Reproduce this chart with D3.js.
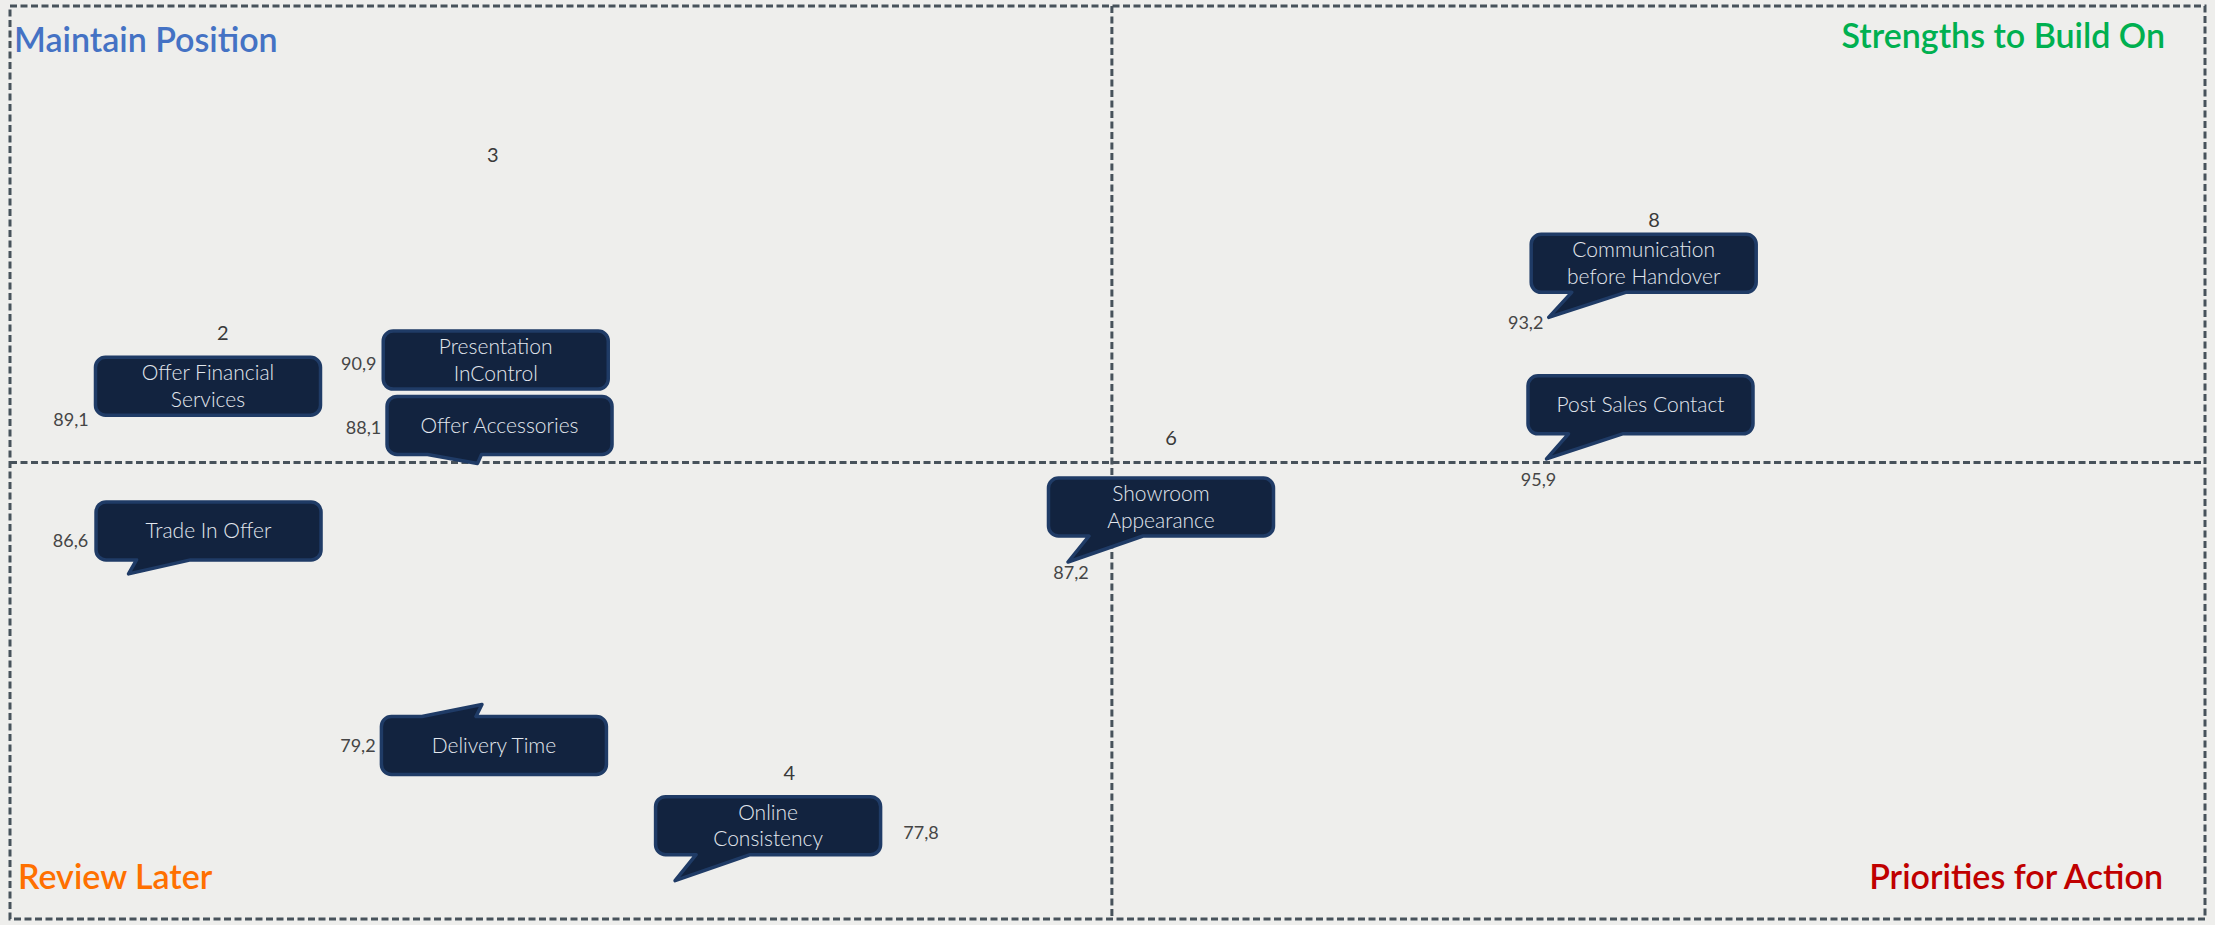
<!DOCTYPE html>
<html>
<head>
<meta charset="utf-8">
<script src="https://cdn.jsdelivr.net/npm/d3@7"></script>
<style>
  body { margin: 0; background: #eeeeec; }
  svg { display: block; }
</style>
</head>
<body>
<div id="the_chart"></div>
<script>
// callout items (point = where the callout points to)
var itemLines = [
    ["Offer Financial", "Services"],
    ["Presentation", "InControl"],
    ["Offer Accessories"],
    ["Trade In Offer"],
    ["Delivery Time"],
    ["Online", "Consistency"],
    ["Showroom", "Appearance"],
    ["Communication", "before Handover"],
    ["Post Sales Contact"]
];
var xVals  = [4.1, 17.3, 21.3, 5.4, 21.5, 30.3, 48.2, 70.1, 70.0];
var yVals  = [55.5, 59.9, 49.9, 37.8, 23.5, 4.2, 39.1, 65.9, 50.4];
var scores = ["89,1", "90,9", "88,1", "86,6", "79,2", "77,8", "87,2", "93,2", "95,9"];

// small count labels
var countLabels = ["2", "3", "8", "6", "4"];
var countX = [9.7, 22.0, 74.9, 52.9, 35.5];
var countY = [64.2, 83.7, 76.6, 52.7, 16.0];

// quadrant split
var xMid = 50.2, yMid = 50;

var quadrants = ["Maintain Position", "Strengths to Build On", "Review Later", "Priorities for Action"];
var quadColors = ["#4472c4", "#00b050", "#ff7000", "#c00000"];

// manual label placement (offsets in px from the point), like dragged excel labels
var boxOffset = [[108, -26], [106, -12], [22, -38], [80, -43], [12, 41], [93, -55], [93, -55], [95, -54], [94, -54]];
var scoreOffset = [[-29, 7], [-31, -8], [-114, -36], [-58, -33], [-124, 41], [246, -48], [3, 11], [-23, 5], [-8, 21]];

var w = 2215;
var h = 925;
var padL = 10, padR = 2205, padT = 6, padB = 919;
var boxW = 225, boxH = 58, rad = 10;

var svg = d3.select("#the_chart")
    .append("svg")
    .attr("width", w)
    .attr("height", h);

var xscale = d3.scaleLinear().domain([0, 100]).range([padL, padR]);
var yscale = d3.scaleLinear().domain([0, 100]).range([padB, padT]);

var dash = { stroke: "#47525b", width: 3, dasharray: "7,3.5" };

// frame
svg.append("rect")
    .attr("x", padL).attr("y", padT)
    .attr("width", padR - padL).attr("height", padB - padT)
    .attr("fill", "#eeeeec")
    .attr("stroke", dash.stroke)
    .attr("stroke-width", dash.width)
    .attr("stroke-dasharray", dash.dasharray);

// quadrant lines
svg.append("line")
    .attr("x1", xscale(xMid)).attr("x2", xscale(xMid))
    .attr("y1", padT).attr("y2", padB)
    .attr("stroke", dash.stroke).attr("stroke-width", dash.width)
    .attr("stroke-dasharray", dash.dasharray);
svg.append("line")
    .attr("x1", padL).attr("x2", padR)
    .attr("y1", yscale(yMid)).attr("y2", yscale(yMid))
    .attr("stroke", dash.stroke).attr("stroke-width", dash.width)
    .attr("stroke-dasharray", dash.dasharray);

// quadrant titles
var titlePos = [
    { x: 14, y: 52, anchor: "start" },
    { x: 2165, y: 48, anchor: "end" },
    { x: 18, y: 889, anchor: "start" },
    { x: 2163, y: 889, anchor: "end" }
];
svg.selectAll(".qtitle")
    .data(quadrants)
    .enter().append("text")
    .attr("class", "qtitle")
    .attr("x", function(d, i) { return titlePos[i].x; })
    .attr("y", function(d, i) { return titlePos[i].y; })
    .attr("text-anchor", function(d, i) { return titlePos[i].anchor; })
    .attr("fill", function(d, i) { return quadColors[i]; })
    .style("font-family", "Lato, 'Open Sans', sans-serif")
    .style("font-weight", 600)
    .style("font-size", "34px")
    .text(function(d) { return d; });

// callout shape: box at (0,0), tip at (tx,ty)
function calloutPath(bw, bh, r, tx, ty) {
    var b1 = bw * 0.18, b2 = bw * 0.42;
    var p = "M" + r + ",0";
    if (ty < 0) p += "H" + b1 + "L" + tx + "," + ty + "L" + b2 + ",0";
    p += "H" + (bw - r) + "A" + r + "," + r + " 0 0 1 " + bw + "," + r;
    p += "V" + (bh - r) + "A" + r + "," + r + " 0 0 1 " + (bw - r) + "," + bh;
    if (ty > bh) p += "H" + b2 + "L" + tx + "," + ty + "L" + b1 + "," + bh;
    p += "H" + r + "A" + r + "," + r + " 0 0 1 0," + (bh - r);
    p += "V" + r + "A" + r + "," + r + " 0 0 1 " + r + ",0Z";
    return p;
}

var callouts = svg.selectAll(".callout")
    .data(itemLines)
    .enter().append("g")
    .attr("class", "callout")
    .attr("transform", function(d, i) {
        var bx = xscale(xVals[i]) + boxOffset[i][0] - boxW / 2;
        var by = yscale(yVals[i]) + boxOffset[i][1] - boxH / 2;
        return "translate(" + bx + "," + by + ")";
    });

callouts.append("path")
    .attr("d", function(d, i) {
        var tx = boxW / 2 - boxOffset[i][0];
        var ty = boxH / 2 - boxOffset[i][1];
        return calloutPath(boxW, boxH, rad, tx, ty);
    })
    .attr("fill", "#12233f")
    .attr("stroke", "#1f3b66")
    .attr("stroke-width", 3.5)
    .attr("stroke-linejoin", "round");

callouts.each(function(d) {
    var g = d3.select(this);
    var n = d.length;
    d.forEach(function(line, k) {
        g.append("text")
            .attr("x", boxW / 2)
            .attr("y", boxH / 2 + (k - (n - 1) / 2) * 26.5)
            .attr("dy", "0.35em")
            .attr("text-anchor", "middle")
            .attr("fill", "#e2e7ee")
            .style("font-family", "Lato, 'Open Sans', sans-serif")
            .style("font-weight", 300)
            .style("font-size", "21px")
            .text(line);
    });
});

// score labels
svg.selectAll(".score")
    .data(scores)
    .enter().append("text")
    .attr("class", "score")
    .attr("x", function(d, i) { return xscale(xVals[i]) + scoreOffset[i][0]; })
    .attr("y", function(d, i) { return yscale(yVals[i]) + scoreOffset[i][1]; })
    .attr("dy", "0.35em")
    .attr("text-anchor", "middle")
    .attr("fill", "#454545")
    .style("font-family", "Lato, 'Open Sans', sans-serif")
    .style("font-weight", 400)
    .style("font-size", "18px")
    .text(function(d) { return d; });

// count labels
svg.selectAll(".count")
    .data(countLabels)
    .enter().append("text")
    .attr("class", "count")
    .attr("x", function(d, i) { return xscale(countX[i]); })
    .attr("y", function(d, i) { return yscale(countY[i]); })
    .attr("dy", "0.35em")
    .attr("text-anchor", "middle")
    .attr("fill", "#3a3a3a")
    .style("font-family", "Lato, 'Open Sans', sans-serif")
    .style("font-weight", 400)
    .style("font-size", "20px")
    .text(function(d) { return d; });
</script>
</body>
</html>
